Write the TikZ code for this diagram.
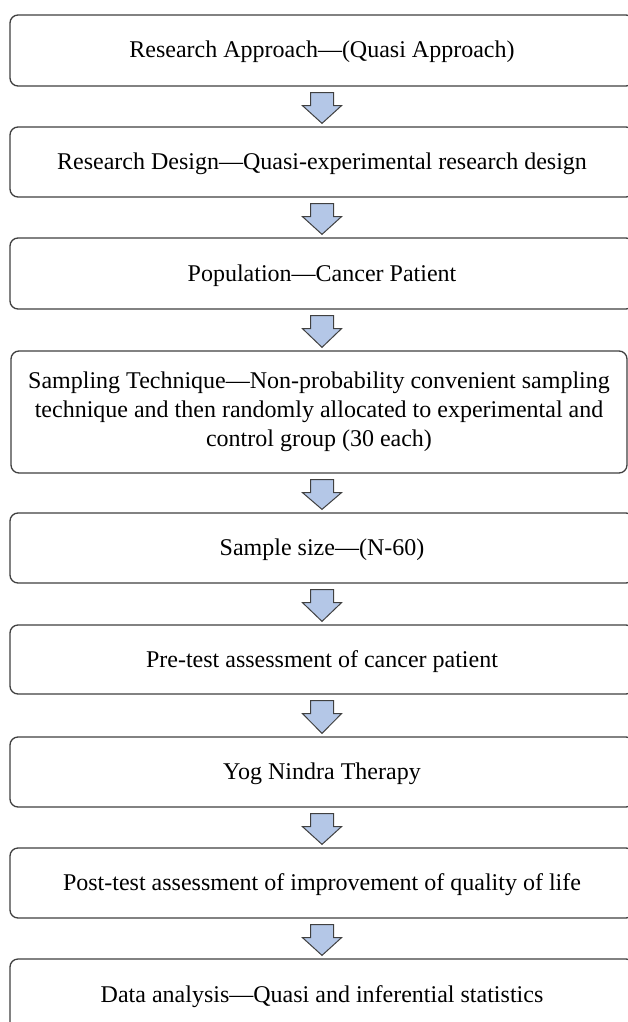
\documentclass[tikz,border=0pt]{standalone}
\usepackage{fontspec}
\setmainfont{Liberation Serif}
\usetikzlibrary{calc}
\definecolor{arrowfill}{RGB}{180,199,231}
\definecolor{edgegray}{RGB}{64,64,64}
\newcommand\flowarrow[2]{%
  \draw[blockarrow] let \p1=(#1.south), \p2=(#2.north) in
    (310.5pt,\y1-6pt) -- (333.5pt,\y1-6pt) -- (333.5pt,\y1-19pt) -- (341.5pt,\y1-19pt)
    -- (322pt,\y2+3pt) -- (302.5pt,\y1-19pt) -- (310.5pt,\y1-19pt) -- cycle;}
\begin{document}
\begin{tikzpicture}[x=1pt,y=-1pt,
  stage/.style={draw=edgegray, line width=1.3pt, rounded corners=8pt,
    minimum width=624pt, align=center, inner sep=0pt,
    font=\fontsize{24}{29}\selectfont,
    execute at begin node={\rule[-6pt]{0pt}{27pt}}},
  blockarrow/.style={draw=edgegray, fill=arrowfill, line width=1pt, line join=miter}]
\clip (0,0) rectangle (628,1022);
\fill[white] (0,0) rectangle (628,1022);
\node[stage, minimum height=71pt] (s1) at (322,50.5) {Research Approach—(Quasi Approach)};
\node[stage, minimum height=70pt] (s2) at (322,162) {Research Design—Quasi-experimental research design};
\node[stage, minimum height=71pt] (s3) at (322,273.5) {Population—Cancer Patient};
\node[stage, minimum height=122pt, minimum width=616pt] (s4) at (319,412) {Sampling Technique—Non-probability convenient sampling\\technique and then randomly allocated to experimental and\\control group (30 each)};
\node[stage, minimum height=70pt] (s5) at (322,548) {Sample size—(N-60)};
\node[stage, minimum height=69pt] (s6) at (322,659.5) {Pre-test assessment of cancer patient};
\node[stage, minimum height=70pt] (s7) at (322,772) {Yog Nindra Therapy};
\node[stage, minimum height=70pt] (s8) at (322,883) {Post-test assessment of improvement of quality of life};
\node[stage, minimum height=71pt] (s9) at (322,994.5) {Data analysis—Quasi and inferential statistics};
\flowarrow{s1}{s2}
\flowarrow{s2}{s3}
\flowarrow{s3}{s4}
\flowarrow{s4}{s5}
\flowarrow{s5}{s6}
\flowarrow{s6}{s7}
\flowarrow{s7}{s8}
\flowarrow{s8}{s9}
\end{tikzpicture}
\end{document}
